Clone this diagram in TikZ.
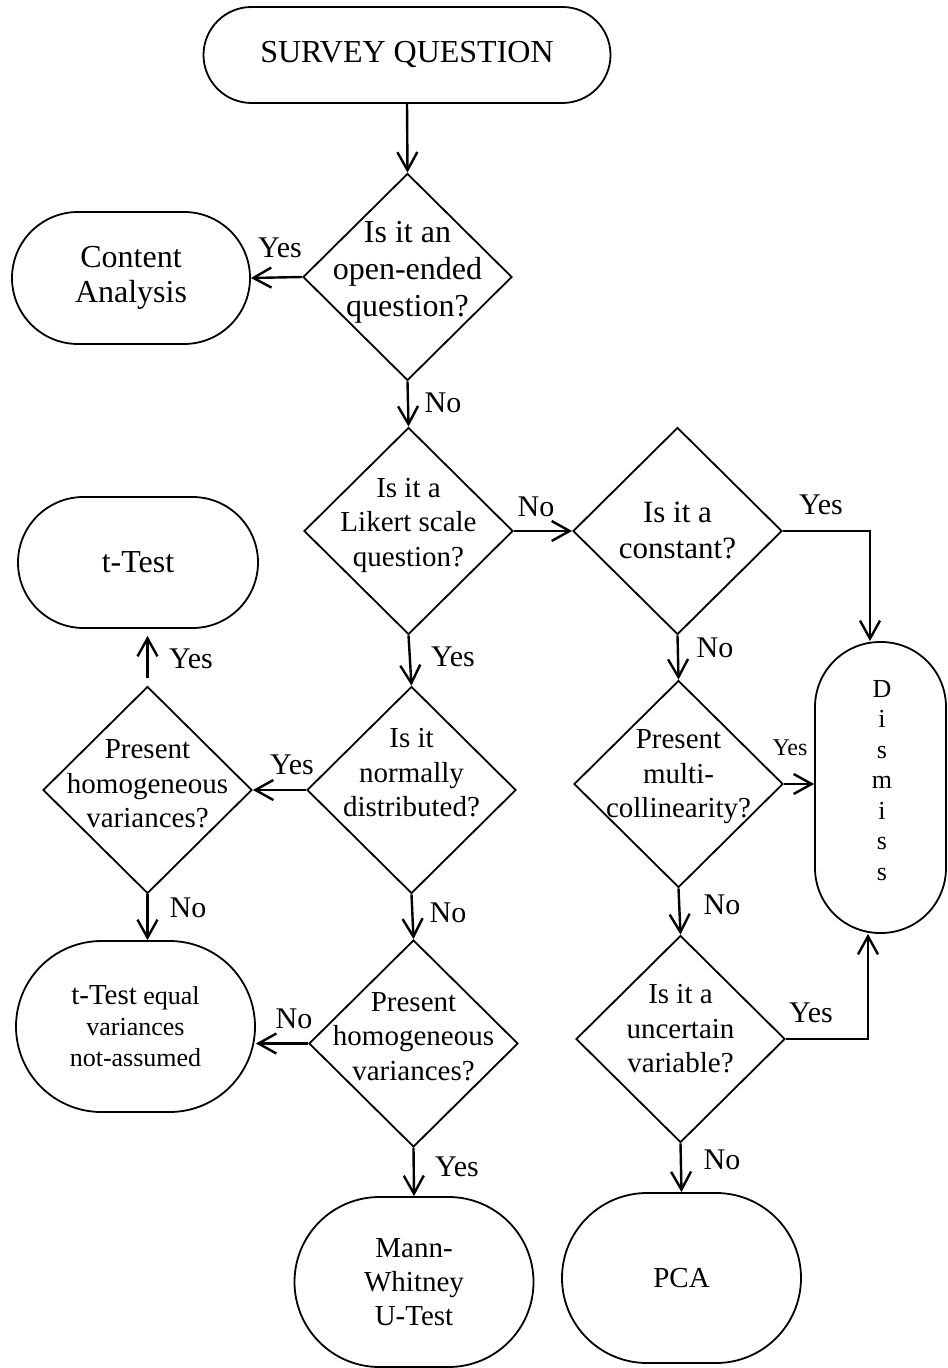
\documentclass[tikz,border=0pt]{standalone}
\usepackage{fontspec}
\setmainfont{Liberation Serif}
\usetikzlibrary{shapes.geometric,shapes.misc,arrows.meta,calc}
\newcommand\setfs[2]{\fontsize{#1}{#2}\selectfont}

\begin{document}
\begin{tikzpicture}[x=0.5pt,y=-0.5pt,
  term/.style={draw, line width=0.9pt, rounded rectangle, align=center, inner sep=0pt,
               font=\setfs{14.5}{17}},
  decision/.style={draw, line width=0.9pt, diamond, inner sep=0pt,
                   minimum width=104.5pt, minimum height=103.5pt},
  qtext/.style={align=center, inner sep=0pt, font=\setfs{14.5}{17.25}},
  lbl/.style={inner sep=0pt, font=\setfs{15}{18}},
  flow/.style={line width=1.2pt, -{Straight Barb[length=9pt,width=10pt]}}
]
\useasboundingbox (0,0) rectangle (947,1368);

% terminal nodes
\node[term, minimum width=203.5pt, minimum height=48pt, font=\setfs{16}{19}] (sq) at (407,55) {SURVEY QUESTION};
\node[term, minimum width=119pt, minimum height=66pt, font=\setfs{16}{17.5}] (ca) at (131,278) {Content\\Analysis};
\node[term, minimum width=120pt, minimum height=65.5pt, font=\setfs{16}{19}] (tt1) at (138,562.5) {t-Test};
\node[term, minimum width=119.5pt, minimum height=85.5pt, font=\setfs{13}{15.5}] (tt2) at (135.5,1026.5)
  {{\setfs{14.5}{15.5}t-Test} equal\\variances\\not-assumed};
\node[term, minimum width=119.5pt, minimum height=85pt] (mw) at (414,1282) {Mann-\\Whitney\\U-Test};
\node[term, minimum width=119.5pt, minimum height=85pt] (pca) at (681.5,1278) {PCA};
\node[draw, line width=0.9pt, rectangle, rounded corners=32.5pt, minimum width=65.5pt,
      minimum height=145.5pt] (dis) at (880.5,787.5) {};
\node[align=center, inner sep=0pt, font=\setfs{13}{15.25}] (dist) at ([xshift=0.75pt,yshift=3.5pt]dis.center)
  {D\\i\\s\\m\\i\\s\\s};

% decisions
\node[decision] (d1) at (407.5,277) {};
\node[qtext, font=\setfs{16}{18.5}] (d1t) at ([yshift=2.5pt]d1.center) {Is it an\\open-ended\\question?};
\node[decision] (d2) at (408.5,531) {};
\node[qtext] (d2t) at ([yshift=3pt]d2.center) {Is it a\\Likert scale\\question?};
\node[decision] (d3) at (677.5,531) {};
\node[qtext, font=\setfs{15.5}{18}] (d3t) at ([yshift=0.5pt]d3.center) {Is it a\\constant?};
\node[decision] (d6) at (411.5,790) {};
\node[qtext] (d6t) at ([yshift=8.5pt]d6.center) {Is it\\normally\\distributed?};
\node[decision] (d8) at (147.5,790) {};
\node[qtext] (d8t) at ([yshift=3pt]d8.center) {Present\\homogeneous\\variances?};
\node[decision] (d4) at (678.5,784) {};
\node[qtext] (d4t) at ([yshift=3.5pt]d4.center) {Present\\multi-\\collinearity?};
\node[decision] (d7) at (413.5,1043.5) {};
\node[qtext] (d7t) at ([yshift=3.5pt]d7.center) {Present\\homogeneous\\variances?};
\node[decision] (d5) at (680.5,1039) {};
\node[qtext] (d5t) at ([yshift=5pt]d5.center) {Is it a\\uncertain\\variable?};

% connectors
\draw[flow] (sq.south) -- (d1.north);
\draw[flow] (d1.west) -- (ca.east);
\draw[flow] (d1.south) -- (d2.north);
\draw[flow] (d2.east) -- (d3.west);
\draw[flow] (d3.east) -| ($(dis.north)+(-10.5,0)$);
\draw[flow] (d2.south) -- (d6.north);
\draw[flow] (d3.south) -- (d4.north);
\draw[flow] (d4.east) -- (d4.east -| dis.west);
\draw[flow] (d4.south) -- (d5.north);
\draw[flow] (d5.east) -| ($(dis.south)+(-12.5,0)$);
\draw[flow] (d5.south) -- (pca.north);
\draw[flow] (d6.west) -- (d8.east);
\draw[flow] (d6.south) -- (d7.north);
\draw[flow] (d7.south) -- (mw.north);
\draw[flow] (d7.west) -- (d7.west -| tt2.east);
\draw[flow] (d8.south) -- (d8.south |- tt2.north);
\draw[flow, shorten <=4pt, shorten >=3.5pt] (d8.north) -- (d8.north |- tt1.south);

% branch labels
\node[lbl] (y1) at (280,248) {Yes};
\node[lbl] (n1) at (443,403) {No};
\node[lbl] (n2) at (536,507) {No};
\node[lbl] (y2) at (821,505) {Yes};
\node[lbl] (n3) at (715,648) {No};
\node[lbl] (y3) at (453,657) {Yes};
\node[lbl] (y4) at (191,659) {Yes};
\node[lbl] (y5) at (292,765) {Yes};
\node[lbl, font=\setfs{12}{14}] (y6) at (790,748) {Yes};
\node[lbl] (n4) at (188,908) {No};
\node[lbl] (n5) at (448,913) {No};
\node[lbl] (n6) at (722,905) {No};
\node[lbl] (n7) at (294,1019) {No};
\node[lbl] (y7) at (811,1013) {Yes};
\node[lbl] (y8) at (457,1167) {Yes};
\node[lbl] (n8) at (722,1160) {No};
\end{tikzpicture}
\end{document}
